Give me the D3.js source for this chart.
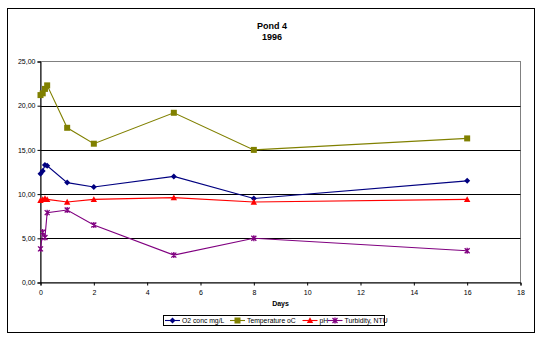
<!DOCTYPE html>
<html><head><meta charset="utf-8">
<script src="https://cdn.jsdelivr.net/npm/d3@7"></script>
<style>body{margin:0;background:#fff}svg{display:block;font-family:"Liberation Sans",Arial,sans-serif}</style>
</head><body><svg id="c" width="541" height="341"></svg>
<script>
const days = [0, 0.083, 0.167, 0.25, 1, 2, 5, 8, 16];
const o2 = [12.3, 12.6, 13.3, 13.2, 11.3, 10.8, 12.0, 9.5, 11.5];
const temperature = [21.2, 21.4, 21.9, 22.3, 17.5, 15.7, 19.2, 15.0, 16.3];
const ph = [9.3, 9.4, 9.5, 9.4, 9.1, 9.4, 9.6, 9.1, 9.4];
const turbidity = [3.8, 5.7, 5.1, 7.9, 8.2, 6.5, 3.1, 5.0, 3.6];
const seriesNames = ["O2 conc mg/L", "Temperature oC", "pH", "Turbidity, NTU"];
const xTicks = [0, 2, 4, 6, 8, 10, 12, 14, 16, 18];
const yTicks = [0, 5, 10, 15, 20, 25];
const title = ["Pond 4", "1996"];
const xLabel = "Days";

const colors = ["#000080", "#808000", "#FF0000", "#800080"];
const shapes = ["diamond", "square", "triangle", "star"];
const values = [o2, temperature, ph, turbidity];

const svg = d3.select("#c");
svg.append("rect").attr("x", 7.5).attr("y", 8.5).attr("width", 527).attr("height", 324)
  .attr("fill", "#fff").attr("stroke", "#000").attr("stroke-width", 1);

const L = 40.5, R = 520.5, T = 61.5, B = 282.5;
const x = d3.scaleLinear().domain([0, 18]).range([L, R]);
const y = d3.scaleLinear().domain([0, 25]).range([B, T]);

svg.append("rect").attr("x", L).attr("y", T).attr("width", R - L).attr("height", B - T)
  .attr("fill", "none").attr("stroke", "#808080").attr("stroke-width", 1);

svg.append("g").selectAll("line").data(yTicks.filter(d => d > 0 && d < 25)).join("line")
  .attr("x1", L).attr("x2", R).attr("y1", d => Math.round(y(d)) + 0.5).attr("y2", d => Math.round(y(d)) + 0.5)
  .attr("stroke", "#000").attr("stroke-width", 1);

const fmt = d => d3.format(".2f")(d).replace(".", ",");
const yAxis = svg.append("g").attr("transform", `translate(${L},0)`)
  .call(d3.axisLeft(y).tickValues(yTicks).tickFormat(fmt).tickSize(3).tickPadding(2));
const xAxis = svg.append("g").attr("transform", `translate(0,${B})`)
  .call(d3.axisBottom(x).tickValues(xTicks).tickSize(3).tickPadding(5));
[xAxis, yAxis].forEach(a => {
  a.select(".domain").attr("stroke", "#000");
  a.selectAll(".tick line").attr("stroke", "#000");
  a.selectAll("text").attr("font-size", 7).attr("fill", "#000").attr("font-family", "Liberation Sans, Arial, sans-serif");
});

svg.append("text").attr("x", 272).attr("y", 29).attr("text-anchor", "middle")
  .attr("font-size", 9).attr("font-weight", "bold").text(title[0]);
svg.append("text").attr("x", 272).attr("y", 40).attr("text-anchor", "middle")
  .attr("font-size", 9).attr("font-weight", "bold").text(title[1]);
svg.append("text").attr("x", x(9)).attr("y", 306).attr("text-anchor", "middle")
  .attr("font-size", 7).attr("font-weight", "bold").text(xLabel);

function marker(g, shape, color, cx, cy) {
  if (shape === "diamond") {
    g.append("path").attr("d", `M${cx},${cy - 3}L${cx + 3},${cy}L${cx},${cy + 3}L${cx - 3},${cy}Z`).attr("fill", color);
  } else if (shape === "square") {
    g.append("rect").attr("x", cx - 3).attr("y", cy - 3).attr("width", 6).attr("height", 6).attr("fill", color);
  } else if (shape === "triangle") {
    g.append("path").attr("d", `M${cx},${cy - 3.2}L${cx + 3.2},${cy + 2.6}L${cx - 3.2},${cy + 2.6}Z`).attr("fill", color);
  } else {
    g.append("path").attr("d", `M${cx - 2.5},${cy - 2.5}L${cx + 2.5},${cy + 2.5}M${cx + 2.5},${cy - 2.5}L${cx - 2.5},${cy + 2.5}M${cx},${cy - 3}L${cx},${cy + 3}`)
      .attr("stroke", color).attr("stroke-width", 1.3).attr("fill", "none");
  }
}

const line = d3.line().x(d => x(d[0])).y(d => y(d[1]));
values.forEach((vals, i) => {
  const pts = days.map((d, j) => [d, vals[j]]);
  const g = svg.append("g");
  g.append("path").datum(pts).attr("d", line).attr("fill", "none")
    .attr("stroke", colors[i]).attr("stroke-width", 1.1);
  pts.forEach(p => marker(g, shapes[i], colors[i], x(p[0]), y(p[1])));
});

const lg = svg.append("g");
lg.append("rect").attr("x", 163.5).attr("y", 315.5).attr("width", 221).attr("height", 10)
  .attr("fill", "#fff").attr("stroke", "#000");
const legX = [165, 230, 302.5, 327.5];
seriesNames.forEach((n, i) => {
  const lx = legX[i], ly = 320.5;
  lg.append("line").attr("x1", lx).attr("x2", lx + 15).attr("y1", ly).attr("y2", ly)
    .attr("stroke", colors[i]).attr("stroke-width", 1.1);
  marker(lg, shapes[i], colors[i], lx + 7.5, ly);
  lg.append("text").attr("x", lx + 17).attr("y", ly + 2.5).attr("font-size", 6.8).text(n);
});
</script></body></html>
